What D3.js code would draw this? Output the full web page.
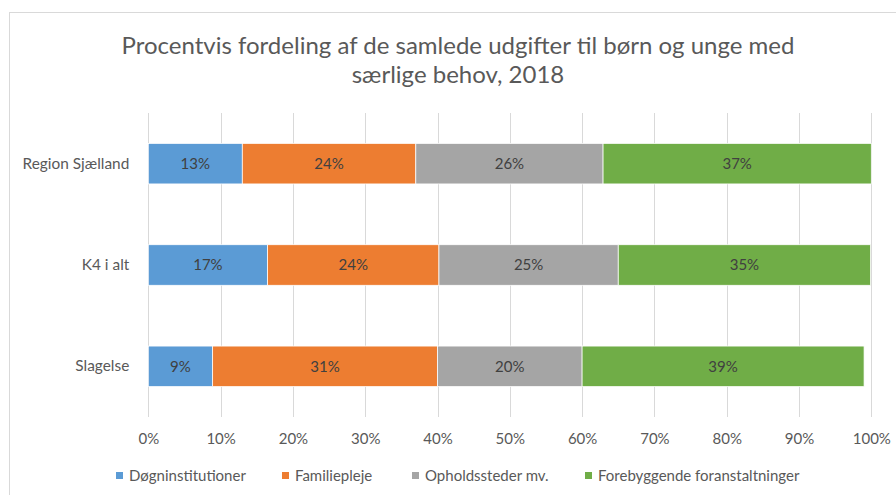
<!DOCTYPE html>
<html>
<head>
<meta charset="utf-8">
<script src="https://cdn.jsdelivr.net/npm/d3@7"></script>
<style>
  body { margin: 0; background: #fff; }
  svg { display: block; font-family: Lato, "Open Sans", sans-serif; }
</style>
</head>
<body>
<svg></svg>
<script>
// data
const categories = ["Region Sjælland", "K4 i alt", "Slagelse"];
const seriesNames = ["Døgninstitutioner", "Familiepleje", "Opholdssteder mv.", "Forebyggende foranstaltninger"];
const døgn = [13.0, 16.5, 8.9];
const familie = [24.0, 23.7, 31.1];
const ophold = [25.9, 24.8, 20.0];
const forebyg = [37.1, 34.9, 39.0];
const xTicks = [0, 10, 20, 30, 40, 50, 60, 70, 80, 90, 100];
const titleLines = ["Procentvis fordeling af de samlede udgifter til børn og unge med", "særlige behov, 2018"];

const colors = ["#5b9bd5", "#ed7d31", "#a5a5a5", "#70ad47"];

const width = 896;
const height = 495;
const plot = { left: 148.3, right: 871.3, top: 113, bottom: 417 };

let svg = d3.select("svg")
  .attr("width", width)
  .attr("height", height);

// ramme om diagrammet
svg.append("rect")
  .attr("x", 9.5)
  .attr("y", 12.5)
  .attr("width", 920)
  .attr("height", 520)
  .attr("fill", "#fff")
  .attr("stroke", "#d9d9d9")
  .attr("stroke-width", 1);

// titel
svg.append("g")
  .selectAll("text")
  .data(titleLines)
  .enter()
  .append("text")
  .attr("x", 458)
  .attr("y", (d, i) => 54 + i * 29)
  .attr("text-anchor", "middle")
  .style("font-size", "24px")
  .style("fill", "#595959")
  .text(d => d);

// skalaer
let scaleX = d3.scaleLinear()
  .domain([0, 100])
  .range([plot.left, plot.right]);
let scaleY = d3.scaleBand()
  .domain(categories)
  .range([plot.top, plot.bottom])
  .paddingInner(0.6)
  .paddingOuter(0.3);

// gitterlinjer
svg.append("g")
  .selectAll("line")
  .data(xTicks)
  .enter()
  .append("line")
  .attr("x1", d => Math.round(scaleX(d)) + 0.5)
  .attr("x2", d => Math.round(scaleX(d)) + 0.5)
  .attr("y1", plot.top)
  .attr("y2", plot.bottom)
  .attr("stroke", "#d9d9d9")
  .attr("stroke-width", 1);

// x-akse
let axisX = d3.axisBottom(scaleX)
  .tickValues(xTicks)
  .tickSize(0)
  .tickPadding(16)
  .tickFormat(d => d + "%");
let gx = svg.append("g")
  .attr("transform", `translate(0, ${plot.bottom})`)
  .call(axisX);
gx.select(".domain").remove();
gx.selectAll("text")
  .style("font-family", "Lato, sans-serif")
  .style("font-size", "15px")
  .style("fill", "#595959");

// y-akse
let axisY = d3.axisLeft(scaleY)
  .tickSize(0)
  .tickPadding(19);
let gy = svg.append("g")
  .attr("transform", `translate(${plot.left}, 0)`)
  .call(axisY);
gy.select(".domain").remove();
gy.selectAll("text")
  .style("font-family", "Lato, sans-serif")
  .style("font-size", "15.4px")
  .style("fill", "#595959");

// stablede data
const rows = categories.map((c, i) => ({
  category: c,
  [seriesNames[0]]: døgn[i],
  [seriesNames[1]]: familie[i],
  [seriesNames[2]]: ophold[i],
  [seriesNames[3]]: forebyg[i]
}));
const stacked = d3.stack().keys(seriesNames)(rows);

let layers = svg.append("g")
  .selectAll("g")
  .data(stacked)
  .enter()
  .append("g")
  .attr("fill", (d, i) => colors[i]);

layers.selectAll("rect")
  .data(d => d)
  .enter()
  .append("rect")
  .attr("x", d => scaleX(d[0]))
  .attr("y", d => scaleY(d.data.category))
  .attr("width", d => scaleX(d[1]) - scaleX(d[0]))
  .attr("height", scaleY.bandwidth())
  .attr("stroke", "#fff")
  .attr("stroke-width", 0.75);

// dataetiketter
layers.selectAll("text")
  .data(d => d)
  .enter()
  .append("text")
  .attr("x", d => (scaleX(d[0]) + scaleX(d[1])) / 2)
  .attr("y", d => scaleY(d.data.category) + scaleY.bandwidth() / 2)
  .attr("dy", "0.35em")
  .attr("text-anchor", "middle")
  .style("font-size", "15px")
  .style("fill", "#404040")
  .text(d => Math.round(d[1] - d[0] + 1e-9) + "%");

// forklaring
const legendX = [116, 282, 412, 585];
let legend = svg.append("g")
  .selectAll("g")
  .data(seriesNames)
  .enter()
  .append("g")
  .attr("transform", (d, i) => `translate(${legendX[i]}, 472)`);
legend.append("rect")
  .attr("width", 7)
  .attr("height", 7)
  .attr("fill", (d, i) => colors[i]);
legend.append("text")
  .attr("x", 13)
  .attr("y", 4)
  .attr("dy", "0.35em")
  .style("font-size", "15px")
  .style("fill", "#595959")
  .text(d => d);
</script>
</body>
</html>
